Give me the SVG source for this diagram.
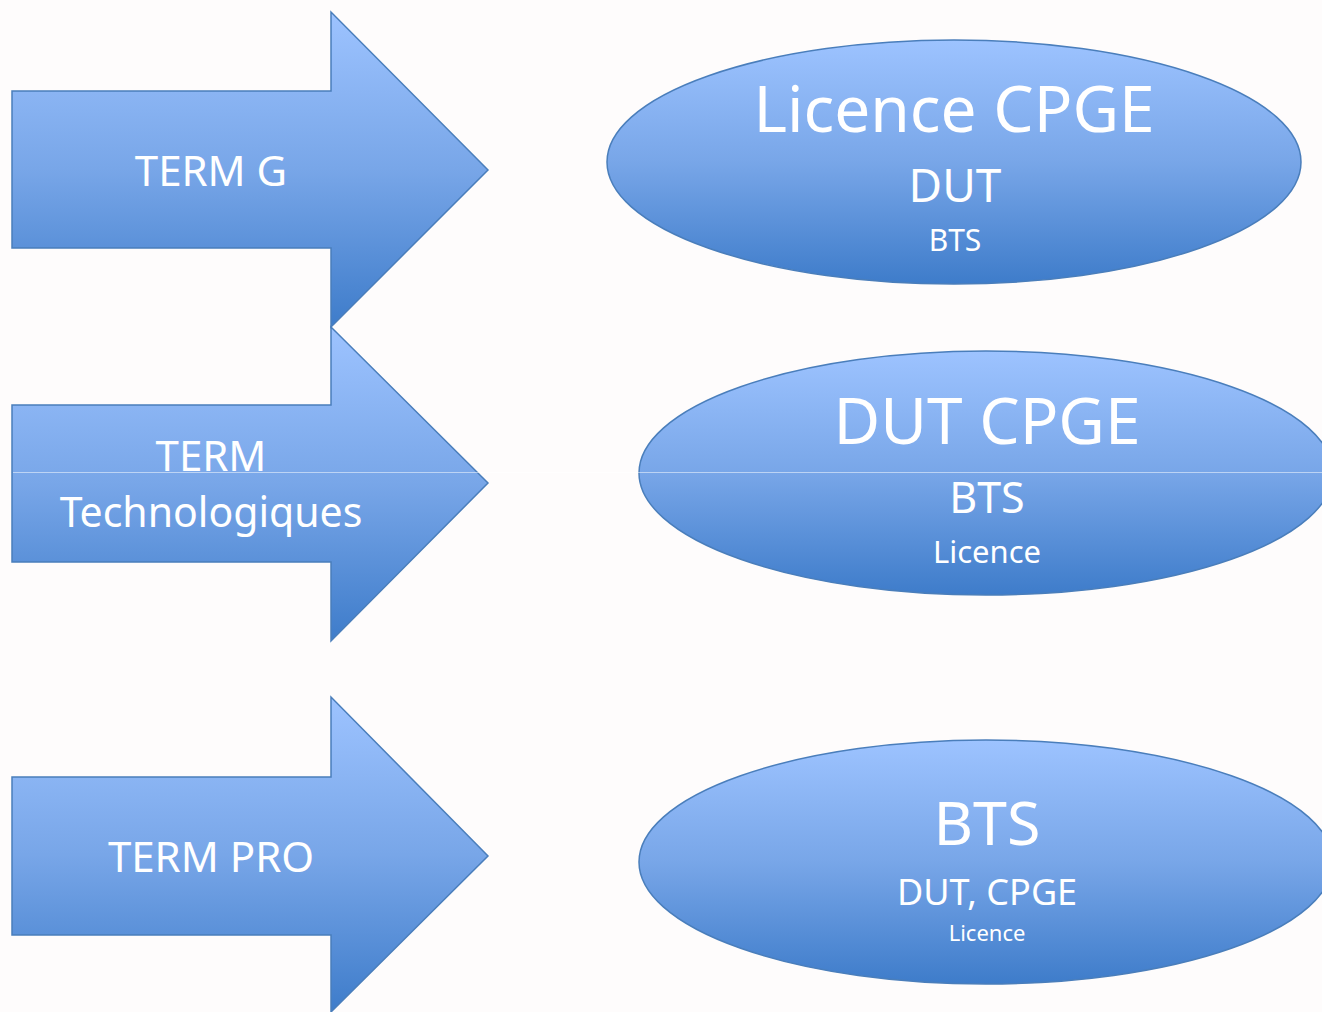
<svg xmlns="http://www.w3.org/2000/svg" width="1322" height="1012" viewBox="0 0 1322 1012">
<defs>
<linearGradient id="g" x1="0" y1="0" x2="0" y2="1">
<stop offset="0" stop-color="#9dc3ff"/>
<stop offset="0.5" stop-color="#78a6e8"/>
<stop offset="1" stop-color="#3e7cca"/>
</linearGradient>
<style>
.s{fill:url(#g);stroke:#4a7ebb;stroke-width:1.5}
text{font-family:"Noto Sans","Open Sans",sans-serif;fill:#ffffff;text-anchor:middle}
</style>
</defs>
<rect width="1322" height="1012" fill="#fefcfc"/>
<g id="arrow-term-g">
<path class="s" d="M12,91 H331 V12 L488,170 L331,327 V248 H12 Z"/>
<text x="211" y="186" font-size="42">TERM G</text>
</g>
<g id="arrow-term-techno">
<path class="s" d="M12,405 H331 V327 L488,483 L331,641 V562 H12 Z"/>
<text x="211" y="471" font-size="42">TERM</text>
<text x="211" y="527" font-size="41">Technologiques</text>
</g>
<g id="arrow-term-pro">
<path class="s" d="M12,777 H331 V697 L488,856 L331,1012 V935 H12 Z"/>
<text x="211" y="872" font-size="42">TERM PRO</text>
</g>
<g id="ellipse-1">
<ellipse class="s" cx="954" cy="162" rx="347" ry="122"/>
<text x="954" y="132" font-size="64">Licence CPGE</text>
<text x="955" y="202" font-size="46">DUT</text>
<text x="955" y="251" font-size="30">BTS</text>
</g>
<g id="ellipse-2">
<ellipse class="s" cx="986" cy="473" rx="347" ry="122"/>
<text x="987" y="444" font-size="64">DUT CPGE</text>
<text x="987" y="513" font-size="43">BTS</text>
<text x="987" y="563" font-size="31">Licence</text>
</g>
<g id="ellipse-3">
<ellipse class="s" cx="986" cy="862" rx="347" ry="122"/>
<text x="987" y="845" font-size="61">BTS</text>
<text x="987" y="905" font-size="36">DUT, CPGE</text>
<text x="987" y="941" font-size="22">Licence</text>
</g>
<g id="connectors">
<line x1="13" y1="472.5" x2="1322" y2="472.5" stroke="#ffffff" stroke-opacity="0.5" stroke-width="1"/>
</g>
</svg>
